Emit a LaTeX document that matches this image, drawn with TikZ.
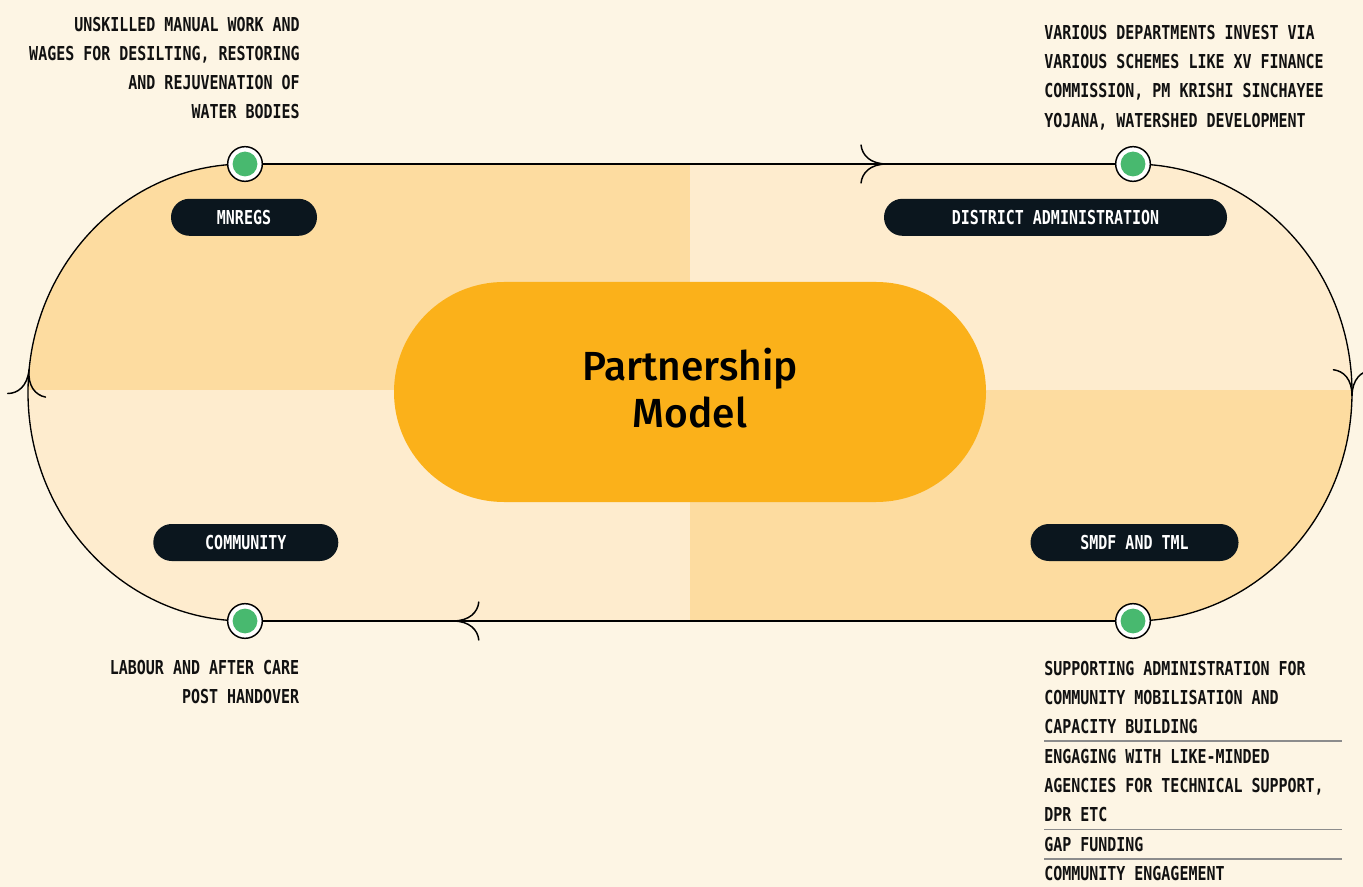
\documentclass[tikz,border=0pt]{standalone}
\usepackage{fontspec}
\usetikzlibrary{decorations.markings}
\newfontfamily\monof{DejaVu Sans Mono}[FakeStretch=0.78]
\newfontfamily\titlef{Fira Sans Medium}
\definecolor{bgc}{HTML}{FDF5E4}
\definecolor{qdark}{HTML}{FDDCA0}
\definecolor{qlight}{HTML}{FEECCE}
\definecolor{pillc}{HTML}{FBB11A}
\definecolor{lblc}{HTML}{0B161E}
\definecolor{dotg}{HTML}{48B96F}
\definecolor{sepc}{HTML}{8C8C8C}
\definecolor{txtc}{HTML}{111111}
\newcommand\barbtip{\draw[barbline] (-26,-19) .. controls (-25,-9) and (-17,0) .. (0,0) .. controls (-17,0) and (-25,9) .. (-26,19);}
\begin{document}
\begin{tikzpicture}[x=0.75pt,y=-0.75pt,
  txt/.style={font=\monof\bfseries\fontsize{14.4}{21.9}\selectfont, text=txtc, inner sep=0pt},
  lbl/.style={fill=lblc, text=white, rounded corners=13.8pt, minimum height=27.75pt, inner sep=0pt, font=\monof\bfseries\fontsize{14.4}{16}\selectfont},
  track/.style={draw=black, line width=1pt},
  barbline/.style={draw=black, line width=1.1pt, line cap=round},
  dot/.style={circle, draw=black, line width=1.1pt, fill=white, minimum size=26pt, inner sep=0pt,
    path picture={\fill[dotg] (path picture bounding box.center) circle[radius=9.3pt];}},
  sepline/.style={draw=sepc, line width=0.8pt},
  pill/.style={fill=pillc, rounded corners=82.4pt, minimum width=444pt, minimum height=165pt, inner sep=0pt, align=center,
    font=\titlef\fontsize{30.5}{35.25}\selectfont, text=black}
]
\fill[bgc] (0,0) rectangle (1363,887);
\useasboundingbox (0,0) rectangle (1363,887);

% quadrant fills inside the track
\begin{scope}
  \clip (245,164) -- (1133,164) arc[start angle=-90, end angle=90, x radius=219, y radius=228.5]
        -- (245,621) arc[start angle=90, end angle=270, x radius=217, y radius=228.5] -- cycle;
  \fill[qdark] (0,0) rectangle (690,390);
  \fill[qlight] (690,0) rectangle (1363,390);
  \fill[qlight] (0,390) rectangle (690,887);
  \fill[qdark] (690,390) rectangle (1363,887);
\end{scope}

\coordinate (c1) at (245,164);
\coordinate (c2) at (1133,164);
\coordinate (c3) at (1133,621);
\coordinate (c4) at (245,621);

% track connectors
\draw[track, postaction={decorate}, decoration={markings, mark=at position 0.723 with {\barbtip}}] (c1) -- (c2);
\draw[track, postaction={decorate}, decoration={markings, mark=at position 0.505 with {\barbtip}}] (c2) arc[start angle=-90, end angle=90, x radius=219, y radius=228.5];
\draw[track, postaction={decorate}, decoration={markings, mark=at position 0.766 with {\barbtip}}] (c3) -- (c4);
\draw[track, postaction={decorate}, decoration={markings, mark=at position 0.533 with {\barbtip}}] (c4) arc[start angle=90, end angle=270, x radius=217, y radius=228.5];

% dots
\node[dot] (d1) at (c1) {};
\node[dot] (d2) at (c2) {};
\node[dot] (d3) at (c3) {};
\node[dot] (d4) at (c4) {};

% centre
\node[pill] (pm) at (690,392) {Partnership\\Model\rule[-6pt]{0pt}{0pt}};

% labels
\node[lbl, minimum width=109.5pt] (mn) at (244,217.3) {MNREGS};
\node[lbl, minimum width=257.25pt] (da) at (1055.5,217.3) {DISTRICT ADMINISTRATION};
\node[lbl, minimum width=138.75pt] (cm) at (245.8,542.5) {COMMUNITY};
\node[lbl, minimum width=156pt] (st) at (1134.5,542.5) {SMDF AND TML};

% descriptions
\node[txt, align=right, anchor=north east] (tlt) at (300,16.5) {UNSKILLED MANUAL WORK AND\\WAGES FOR DESILTING, RESTORING\\AND REJUVENATION OF\\WATER BODIES};
\node[txt, align=left, anchor=north west] (trt) at (1044,25) {VARIOUS DEPARTMENTS INVEST VIA\\VARIOUS SCHEMES LIKE XV FINANCE\\COMMISSION, PM KRISHI SINCHAYEE\\YOJANA, WATERSHED DEVELOPMENT};
\node[txt, align=right, anchor=north east] (blt) at (299.5,660) {LABOUR AND AFTER CARE\\POST HANDOVER};

\node[txt, align=left, anchor=north west] (s1) at (1044,660.7) {SUPPORTING ADMINISTRATION FOR\\COMMUNITY MOBILISATION AND\\CAPACITY BUILDING};
\node[txt, align=left, anchor=north west] (s2) at (1044,749) {ENGAGING WITH LIKE-MINDED\\AGENCIES FOR TECHNICAL SUPPORT,\\DPR ETC};
\node[txt, align=left, anchor=north west] (s3) at (1044,837.3) {GAP FUNDING};
\node[txt, align=left, anchor=north west] (s4) at (1044,866) {COMMUNITY ENGAGEMENT};

\draw[sepline] (1044,741) -- (1342,741);
\draw[sepline] (1044,829.3) -- (1342,829.3);
\draw[sepline] (1044,859) -- (1342,859);
\end{tikzpicture}
\end{document}
